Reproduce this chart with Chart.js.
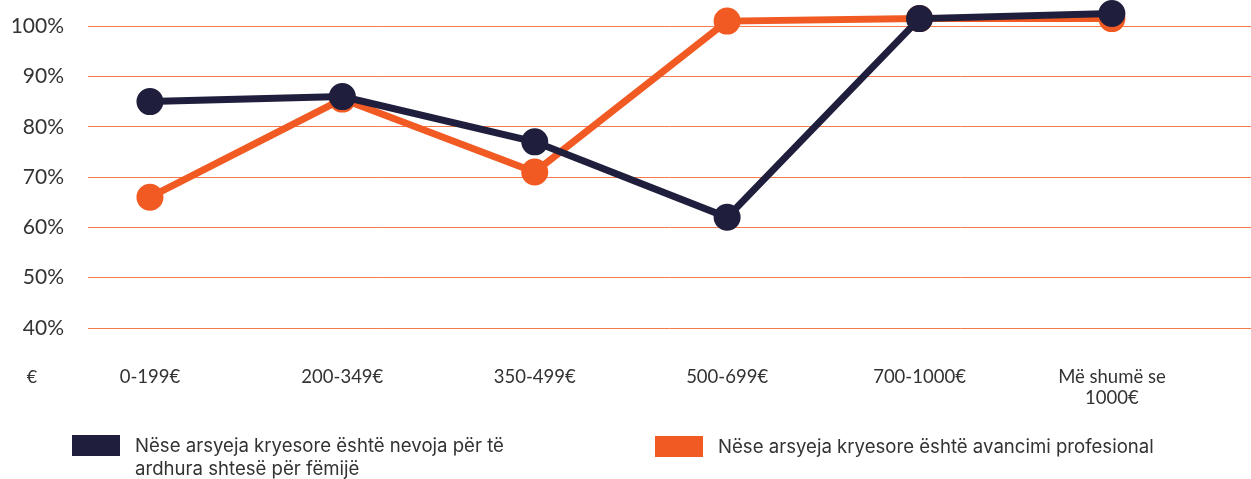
<!DOCTYPE html>
<html>
<head>
<meta charset="utf-8">
<script src="https://cdn.jsdelivr.net/npm/chart.js@4.4.1/dist/chart.umd.min.js"></script>
<style>
    html, body { margin: 0; padding: 0; background: #fff; }
    #wrap { position: relative; width: 1251px; height: 479px; }
    #legend { position: absolute; left: 0; top: 0; width: 1251px; height: 479px; pointer-events: none; }
    .item { position: absolute; display: flex; align-items: flex-start; font-family: Inter, "Noto Sans", sans-serif; font-size: 18.6px; line-height: 23px; color: #333; }
    .box { width: 48px; height: 21px; margin-right: 15px; flex: none; }
</style>
</head>
<body>
<div id="wrap">
    <canvas id="lineChart" width="1251" height="479"></canvas>
    <div id="legend"></div>
</div>
<script>
const categories = ["0-199€", "200-349€", "350-499€", "500-699€", "700-1000€", ["Më shumë se", "1000€"]];
const incomeNeed = [85, 86, 77, 62, 101.5, 102.5];
const careerGrowth = [66, 85.5, 71, 101, 101.5, 101.5];
const yTicks = [40, 50, 60, 70, 80, 90, 100];
const seriesNames = [
    ["Nëse arsyeja kryesore është nevoja për të", "ardhura shtesë për fëmijë"],
    ["Nëse arsyeja kryesore është avancimi profesional"]
];

const navy = "#1f1f3d";
const orange = "#f15a22";
const gridOrange = "#f47a4c";

const euroLabel = {
    id: "euroLabel",
    afterDraw(chart) {
        const ctx = chart.ctx;
        ctx.save();
        ctx.font = "18px Lato";
        ctx.fillStyle = "#333";
        ctx.textAlign = "center";
        ctx.textBaseline = "middle";
        ctx.fillText("€", 32, 377);
        ctx.restore();
    }
};

function renderChart() {
    const ctx = document.getElementById("lineChart").getContext("2d");

    new Chart(ctx, {
        type: "line",
        data: {
            datasets: [{
                label: seriesNames[0].join(" "),
                data: incomeNeed.map((v, i) => ({ x: i, y: v })),
                borderColor: navy,
                backgroundColor: navy,
                borderWidth: 7,
                pointRadius: 10,
                pointHoverRadius: 10,
                clip: false
            }, {
                label: seriesNames[1].join(" "),
                data: careerGrowth.map((v, i) => ({ x: i, y: v })),
                borderColor: orange,
                backgroundColor: orange,
                borderWidth: 7,
                pointRadius: 10,
                pointHoverRadius: 10,
                clip: false
            }]
        },
        options: {
            responsive: false,
            animation: false,
            devicePixelRatio: 1,
            layout: { autoPadding: false, padding: { top: 1, left: 0, right: 0, bottom: 0 } },
            plugins: {
                legend: { display: false },
                tooltip: { enabled: false }
            },
            scales: {
                x: {
                    type: "linear",
                    min: -0.322,
                    max: 5.723,
                    afterBuildTicks: s => { s.ticks = categories.map((c, i) => ({ value: i })); },
                    afterFit: s => { s.height = 151; s.paddingLeft = 0; s.paddingRight = 0; },
                    grid: { display: false, drawTicks: false },
                    border: { display: false },
                    ticks: {
                        padding: 38,
                        maxRotation: 0,
                        autoSkip: false,
                        color: "#333",
                        font: { family: "Lato", size: 18.5, lineHeight: 1.15 },
                        callback: v => categories[v]
                    }
                },
                y: {
                    min: 40,
                    max: 105,
                    afterBuildTicks: s => { s.ticks = yTicks.map(v => ({ value: v })); },
                    afterFit: s => { s.width = 88; s.paddingTop = 0; s.paddingBottom = 0; },
                    grid: { color: gridOrange, lineWidth: 1, drawTicks: false },
                    border: { display: false },
                    ticks: {
                        padding: 24,
                        color: "#333",
                        font: { family: "Lato", size: 21 },
                        callback: v => v + "%"
                    }
                }
            }
        },
        plugins: [euroLabel]
    });

    const legend = document.getElementById("legend");
    const spots = [[72, 435, navy], [655, 436, orange]];
    seriesNames.forEach((name, i) => {
        const item = document.createElement("div");
        item.className = "item";
        item.style.left = spots[i][0] + "px";
        item.style.top = (spots[i][1] - 1) + "px";
        item.innerHTML = '<div class="box" style="background:' + spots[i][2] + ';margin-top:1px"></div><div>' + name.join("<br>") + "</div>";
        legend.appendChild(item);
    });
}

document.addEventListener("DOMContentLoaded", () => {
    renderChart();
});
</script>
</body>
</html>
